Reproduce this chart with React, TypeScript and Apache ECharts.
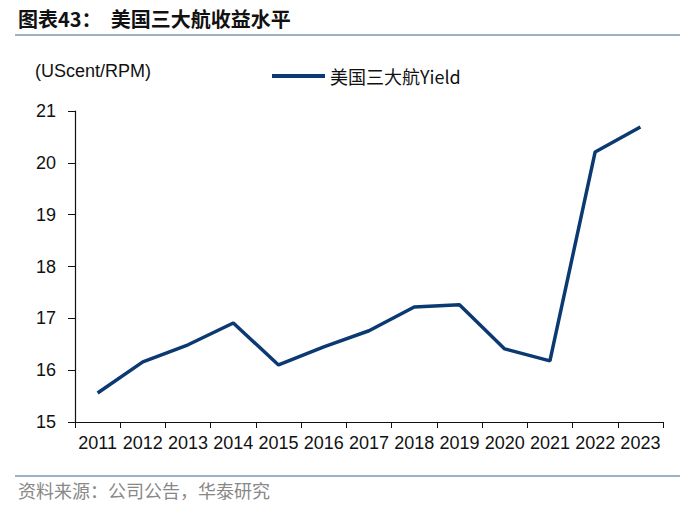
import React, { useEffect, useRef } from "react";
import * as echarts from "echarts";

const categories = ["2011", "2012", "2013", "2014", "2015", "2016", "2017", "2018", "2019", "2020", "2021", "2022", "2023"];
const yieldValues = [15.56, 16.16, 16.49, 16.91, 16.1, 16.45, 16.76, 17.22, 17.26, 16.41, 16.18, 20.21, 20.69];
const seriesName = "美国三大航Yield";
const titleText = "图表43：  美国三大航收益水平";
const unitText = "(UScent/RPM)";
const sourceText = "资料来源：公司公告，华泰研究";

export default function App() {
  const ref = useRef<HTMLDivElement>(null);
  useEffect(() => {
    if (!ref.current) return;
    const chart = echarts.init(ref.current, null, { renderer: "svg" });
    const color = "#0B3A73";
    chart.setOption({
      animation: false,
      backgroundColor: "#ffffff",
      grid: { left: 75, right: 37, top: 111, bottom: 86 },
      legend: {
        data: [{ name: seriesName, icon: "rect" }],
        left: 267,
        top: 62,
        itemWidth: 53,
        itemHeight: 4,
        itemGap: 4,
        textStyle: { fontFamily: "Noto Sans CJK SC, Liberation Sans, sans-serif", fontSize: 18, color: "#111" },
      },
      graphic: [
        { type: "text", left: 18, top: 8, style: { text: titleText, fontSize: 20, fontWeight: "bold", fill: "#111", fontFamily: "Noto Sans CJK SC, sans-serif" } },
        { type: "line", shape: { x1: 15, y1: 35, x2: 680, y2: 35 }, style: { stroke: "#7C97B3", lineWidth: 1.5 } },
        { type: "text", left: 35, top: 62, style: { text: unitText, fontSize: 18, fill: "#111", fontFamily: "Liberation Sans, Arial, sans-serif" } },
        { type: "line", shape: { x1: 15, y1: 476, x2: 680, y2: 476 }, style: { stroke: "#7C97B3", lineWidth: 1.5 } },
        { type: "text", left: 18, top: 481, style: { text: sourceText, fontSize: 18, fill: "#888", fontFamily: "Noto Sans CJK SC, sans-serif" } },
      ],
      xAxis: {
        type: "category",
        data: categories,
        boundaryGap: true,
        axisLine: { lineStyle: { color: "#111", width: 1.2 } },
        axisTick: { show: true, length: 6, alignWithLabel: false, lineStyle: { color: "#111" } },
        axisLabel: { color: "#111", fontSize: 18, fontFamily: "Liberation Sans, Arial, sans-serif", margin: 12, interval: 0 },
      },
      yAxis: {
        type: "value",
        min: 15,
        max: 21,
        interval: 1,
        splitLine: { show: false },
        axisLine: { show: true, lineStyle: { color: "#111", width: 1.2 } },
        axisTick: { show: true, length: 7, lineStyle: { color: "#111" } },
        axisLabel: { color: "#111", fontSize: 18, fontFamily: "Liberation Sans, Arial, sans-serif", margin: 19 },
      },
      series: [
        {
          name: seriesName,
          type: "line",
          data: yieldValues,
          symbol: "none",
          lineStyle: { color, width: 3.5 },
          itemStyle: { color },
        },
      ],
    });
    return () => chart.dispose();
  }, []);
  return <div ref={ref} style={{ width: 700, height: 508, position: "absolute", left: 0, top: 0 }} />;
}
